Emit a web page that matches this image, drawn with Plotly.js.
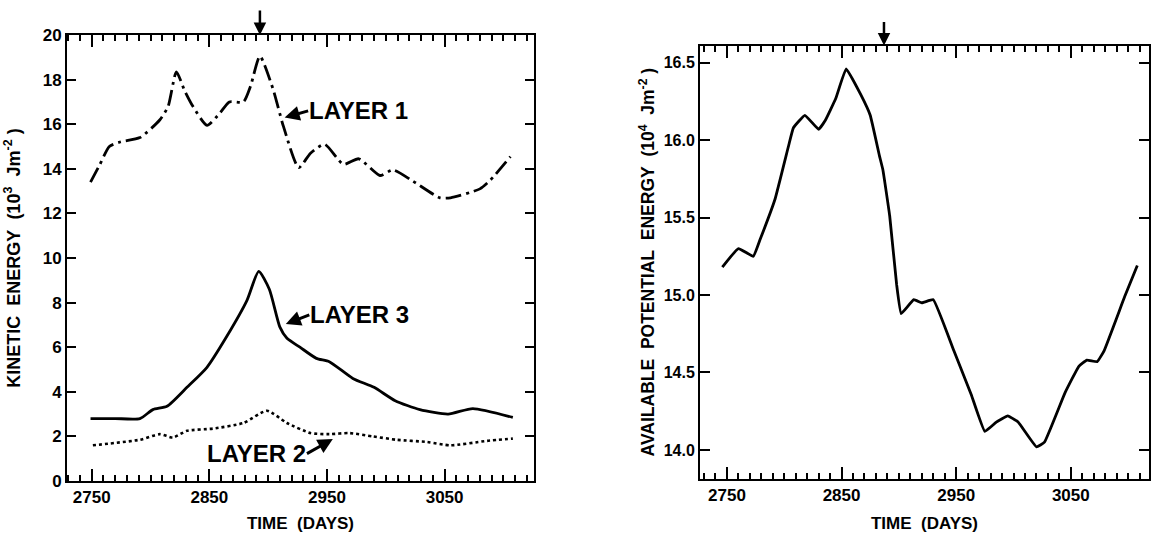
<!DOCTYPE html>
<html>
<head>
<meta charset="utf-8">
<script src="https://cdn.plot.ly/plotly-3.0.1.min.js"></script>
<style>html,body{margin:0;padding:0;background:#fff;}#chart{width:1151px;height:533px;}</style>
</head>
<body>
<div id="chart"></div>
<script>
// Left panel: kinetic energy (10^3 J m^-2)
var daysL1 = [2749, 2757, 2765, 2774, 2791, 2808, 2815, 2822, 2829, 2836, 2848, 2859, 2867, 2879, 2885, 2893, 2904, 2913, 2926, 2936, 2948, 2964, 2977, 2995, 3006, 3023, 3046, 3055, 3080, 3089, 3106];
var keLayer1 = [13.4, 14.2, 15.0, 15.2, 15.4, 16.2, 16.8, 18.35, 17.5, 16.8, 15.95, 16.5, 17.0, 17.0, 17.7, 19.05, 17.6, 15.9, 14.05, 14.7, 15.1, 14.2, 14.45, 13.7, 13.95, 13.45, 12.7, 12.7, 13.1, 13.5, 14.55];

var daysL3 = [2749, 2770, 2791, 2802, 2814, 2831, 2848, 2865, 2882, 2892, 2901, 2910, 2916, 2927, 2941, 2952, 2972, 2990, 3008, 3029, 3053, 3074, 3108];
var keLayer3 = [2.8, 2.8, 2.8, 3.2, 3.35, 4.2, 5.1, 6.5, 8.1, 9.4, 8.6, 6.9, 6.4, 6.0, 5.5, 5.35, 4.6, 4.2, 3.6, 3.2, 3.0, 3.25, 2.85];

var daysL2 = [2751, 2791, 2808, 2819, 2831, 2853, 2879, 2899, 2916, 2936, 2952, 2969, 2989, 3009, 3035, 3055, 3086, 3108];
var keLayer2 = [1.6, 1.85, 2.1, 1.95, 2.25, 2.35, 2.6, 3.15, 2.6, 2.15, 2.1, 2.15, 2.0, 1.85, 1.75, 1.6, 1.8, 1.9];

// Right panel: available potential energy (10^4 J m^-2)
var daysA = [2746, 2760, 2773, 2779, 2792, 2804, 2808, 2818, 2830, 2836, 2845, 2854, 2867, 2875, 2883, 2886, 2892, 2898, 2902, 2913, 2920, 2930, 2948, 2963, 2975, 2985, 2995, 3004, 3020, 3027, 3045, 3057, 3064, 3073, 3079, 3097, 3108];
var apeValues = [15.18, 15.30, 15.25, 15.36, 15.62, 15.97, 16.08, 16.16, 16.07, 16.13, 16.27, 16.46, 16.29, 16.16, 15.90, 15.81, 15.51, 15.07, 14.88, 14.97, 14.95, 14.97, 14.64, 14.36, 14.12, 14.18, 14.22, 14.18, 14.02, 14.05, 14.37, 14.54, 14.58, 14.57, 14.64, 14.99, 15.19];

var keTickVals = [0, 2, 4, 6, 8, 10, 12, 14, 16, 18, 20];
var apeTickVals = [14.0, 14.5, 15.0, 15.5, 16.0, 16.5];

var FONT = 'Liberation Sans, Arial, Helvetica, sans-serif';
var INK = '#000';

var traces = [
  {x: daysL1, y: keLayer1, xaxis: 'x', yaxis: 'y', mode: 'lines', name: 'Layer 1',
   line: {color: INK, width: 2.8, dash: '16px,5px,3px,5px', shape: 'spline', smoothing: 0.6}},
  {x: daysL3, y: keLayer3, xaxis: 'x', yaxis: 'y', mode: 'lines', name: 'Layer 3',
   line: {color: INK, width: 2.8, shape: 'spline', smoothing: 0.6}},
  {x: daysL2, y: keLayer2, xaxis: 'x', yaxis: 'y', mode: 'lines', name: 'Layer 2',
   line: {color: INK, width: 2.6, dash: '3px,3px', shape: 'spline', smoothing: 0.6}},
  {x: daysA, y: apeValues, xaxis: 'x2', yaxis: 'y2', mode: 'lines', name: 'APE',
   line: {color: INK, width: 2.8, shape: 'spline', smoothing: 0.3}}
];

function xAxis(domain, range, anchor) {
  return {
    domain: domain, anchor: anchor, range: range,
    tickmode: 'linear', tick0: 2750, dtick: 100,
    ticks: 'inside', ticklen: 12, tickwidth: 2, tickcolor: INK,
    minor: {tickmode: 'linear', tick0: 2750, dtick: 10, ticks: 'inside', ticklen: 6, tickwidth: 2, tickcolor: INK, showgrid: false},
    showline: true, linecolor: INK, linewidth: 2, mirror: 'ticks', showgrid: false, zeroline: false,
    tickfont: {family: FONT, size: 17, color: INK, weight: 'bold'},
    title: {text: 'TIME&nbsp;&nbsp;(DAYS)', font: {family: FONT, size: 17, color: INK, weight: 'bold'}}
  };
}

var layout = {
  width: 1151, height: 533,
  margin: {l: 0, r: 0, t: 0, b: 0},
  showlegend: false,
  xaxis: xAxis([67/1151, 534/1151], [2729, 3126], 'y'),
  yaxis: {
    domain: [1 - 481/533, 1 - 35/533], anchor: 'x', range: [0, 20],
    tickmode: 'array', tickvals: keTickVals,
    ticks: 'inside', ticklen: 9, tickwidth: 2, tickcolor: INK,
    showline: true, linecolor: INK, linewidth: 2, mirror: 'ticks', showgrid: false, zeroline: false,
    tickfont: {family: FONT, size: 17, color: INK, weight: 'bold'},
    title: {text: 'KINETIC&nbsp;&nbsp;ENERGY&nbsp;&nbsp;(10<sup>3</sup>&nbsp;&nbsp;Jm<sup>-2</sup>&nbsp;)', font: {family: FONT, size: 18, color: INK, weight: 'bold'}}
  },
  xaxis2: xAxis([700/1151, 1149/1151], [2726.5, 3118.2], 'y2'),
  yaxis2: {
    domain: [1 - 478.6/533, 1 - 45.6/533], anchor: 'x2', range: [13.815, 16.61],
    tickmode: 'array', tickvals: apeTickVals, tickformat: '.1f',
    ticks: 'inside', ticklen: 10, tickwidth: 2, tickcolor: INK,
    showline: true, linecolor: INK, linewidth: 2, mirror: 'ticks', showgrid: false, zeroline: false,
    tickfont: {family: FONT, size: 16, color: INK, weight: 'bold'},
    title: {text: 'AVAILABLE&nbsp;&nbsp;POTENTIAL&nbsp;&nbsp;ENERGY&nbsp;&nbsp;(10<sup>4</sup>&nbsp;&nbsp;Jm<sup>-2</sup>&nbsp;)', font: {family: FONT, size: 17.5, color: INK, weight: 'bold'}}
  },
  annotations: [
    {xref: 'x', yref: 'y', x: 2914, y: 16.3, ax: 2934, ay: 16.6, axref: 'x', ayref: 'y',
     text: 'LAYER 1', showarrow: true, xanchor: 'left', yanchor: 'middle',
     arrowhead: 2, arrowsize: 1, arrowwidth: 3, arrowcolor: INK, standoff: 0, borderpad: 0,
     font: {family: FONT, size: 24, color: INK, weight: 'bold'}},
    {xref: 'x', yref: 'y', x: 2915, y: 7.04, ax: 2935, ay: 7.45, axref: 'x', ayref: 'y',
     text: 'LAYER 3', showarrow: true, xanchor: 'left', yanchor: 'middle',
     arrowhead: 2, arrowsize: 1, arrowwidth: 3, arrowcolor: INK, standoff: 0, borderpad: 0,
     font: {family: FONT, size: 24, color: INK, weight: 'bold'}},
    {xref: 'x', yref: 'y', x: 2955, y: 1.88, ax: 2933, ay: 1.23, axref: 'x', ayref: 'y',
     text: 'LAYER 2', showarrow: true, xanchor: 'right', yanchor: 'middle',
     arrowhead: 2, arrowsize: 1, arrowwidth: 3, arrowcolor: INK, standoff: 0, borderpad: 0,
     font: {family: FONT, size: 24, color: INK, weight: 'bold'}},
    {xref: 'x', yref: 'paper', x: 2893, y: 1 - 35/533, ax: 0, ay: -26, text: '', showarrow: true,
     arrowhead: 2, arrowsize: 1, arrowwidth: 2.5, arrowcolor: INK},
    {xref: 'x2', yref: 'paper', x: 2887, y: 1 - 45.6/533, ax: 0, ay: -25, text: '', showarrow: true,
     arrowhead: 2, arrowsize: 1, arrowwidth: 2.5, arrowcolor: INK}
  ]
};

Plotly.newPlot('chart', traces, layout, {displayModeBar: false, staticPlot: true});
</script>
</body>
</html>
